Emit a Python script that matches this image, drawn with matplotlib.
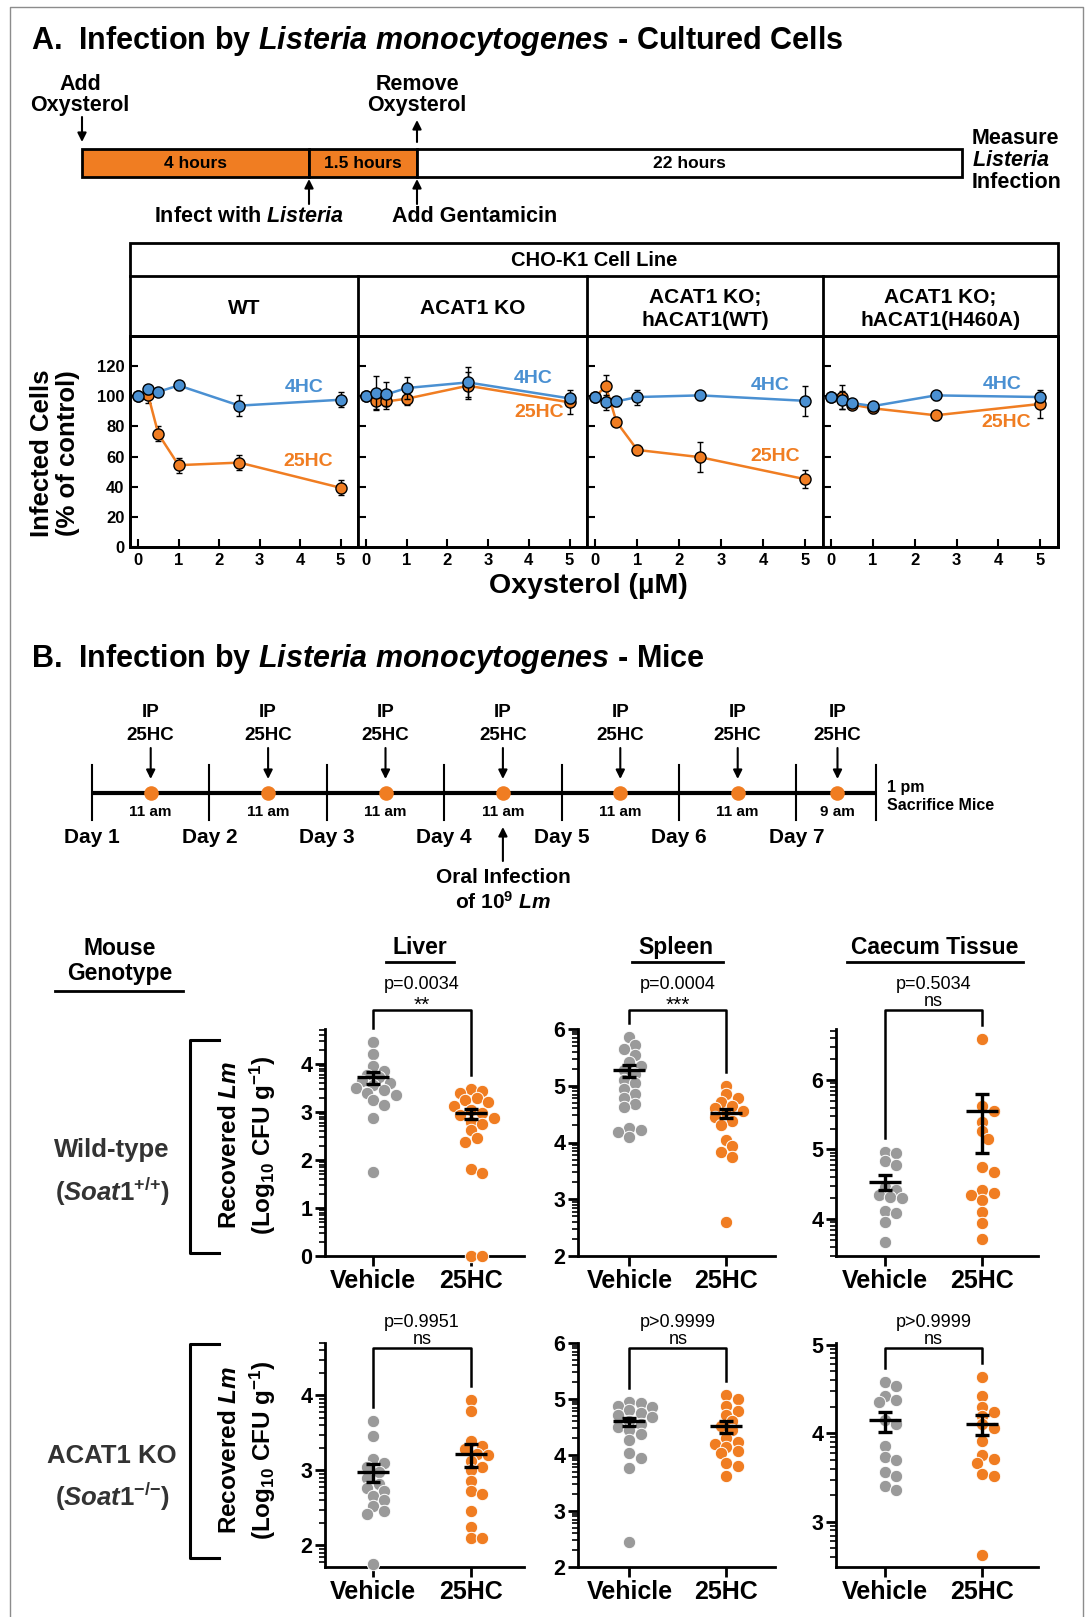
import numpy as np
import matplotlib
matplotlib.use("Agg")
import matplotlib.pyplot as plt
from matplotlib.patches import Rectangle
from matplotlib.ticker import FixedLocator

#################################################################
# data
#################################################################

# A: infection of CHO-K1 cells (% of control) vs oxysterol (uM)
conc = [0, 0.25, 0.5, 1, 2.5, 5]
cellLines = ["WT", "ACAT1 KO", "ACAT1 KO;\nhACAT1(WT)", "ACAT1 KO;\nhACAT1(H460A)"]

hc4Mean = [[100.4, 104.6, 103.0, 107.2, 93.8, 97.7],
           [100.4, 102.4, 101.3, 105.5, 109.2, 98.6],
           [99.7, 96.0, 96.6, 99.5, 100.6, 97.0],
           [99.7, 97.3, 95.5, 93.5, 100.6, 99.5]]
hc4Err = [[0, 3, 2.5, 3, 7, 5],
          [0, 11, 8, 7.5, 10, 3],
          [0, 5, 3, 5, 3, 10],
          [0, 6, 3, 3, 3, 3]]
hc25Mean = [[100.4, 100.6, 75.0, 54.3, 56.0, 39.3],
            [100.4, 96.6, 96.6, 98.4, 107.0, 96.0],
            [99.7, 106.8, 83.2, 64.4, 59.6, 45.0],
            [99.7, 99.7, 94.4, 92.0, 87.4, 94.9]]
hc25Err = [[0, 5, 5, 5, 5, 5],
           [0, 6, 5, 4, 9, 8],
           [0, 7, 2, 3, 10, 6],
           [0, 8, 3, 3, 3, 9]]

# A timeline
phaseLabels = ["4 hours", "1.5 hours", "22 hours"]

# B timeline (days from start of day 1)
dayLabels = ["Day 1", "Day 2", "Day 3", "Day 4", "Day 5", "Day 6", "Day 7"]
ipDays = [0.5, 1.5, 2.5, 3.5, 4.5, 5.5, 6.35]
ipTimes = ["11 am", "11 am", "11 am", "11 am", "11 am", "11 am", "9 am"]
infectionDay = 3.5
sacrificeDay = 6.68

# B: recovered Lm, log10 CFU/g
tissues = ["Liver", "Spleen", "Caecum Tissue"]
groups = ["Vehicle", "25HC"]

wtLiverVeh = [4.45, 4.21, 3.95, 3.85, 3.78, 3.72, 3.65, 3.6, 3.56, 3.5, 3.46, 3.4, 3.35, 3.25, 3.15, 2.88, 1.75]
wtLiver25 = [3.47, 3.44, 3.4, 3.3, 3.25, 3.2, 3.13, 3.05, 2.98, 2.94, 2.88, 2.8, 2.76, 2.62, 2.45, 2.38, 1.82, 1.73, 0, 0]
wtSpleenVeh = [5.86, 5.72, 5.65, 5.55, 5.42, 5.35, 5.28, 5.2, 5.1, 5.05, 4.95, 4.85, 4.78, 4.68, 4.62, 4.25, 4.22, 4.18, 4.1]
wtSpleen25 = [5.0, 4.85, 4.78, 4.72, 4.65, 4.6, 4.55, 4.5, 4.45, 4.38, 4.3, 4.04, 3.93, 3.84, 3.75, 2.6]
wtCaecumVeh = [4.97, 4.95, 4.84, 4.78, 4.46, 4.42, 4.35, 4.32, 4.3, 4.12, 4.09, 3.96, 3.67]
wtCaecum25 = [6.58, 5.62, 5.55, 5.4, 5.26, 5.15, 4.75, 4.67, 4.42, 4.38, 4.35, 4.27, 4.1, 3.94, 3.72]

koLiverVeh = [3.66, 3.46, 3.15, 3.1, 3.05, 2.98, 2.9, 2.82, 2.77, 2.72, 2.66, 2.6, 2.52, 2.46, 2.42, 1.75]
koLiver25 = [3.94, 3.79, 3.39, 3.33, 3.28, 3.22, 3.2, 3.12, 3.04, 3.0, 2.86, 2.72, 2.68, 2.46, 2.24, 2.1, 2.1]
koSpleenVeh = [4.95, 4.92, 4.88, 4.85, 4.8, 4.75, 4.72, 4.68, 4.6, 4.55, 4.5, 4.45, 4.38, 4.26, 4.03, 3.94, 3.76, 2.45]
koSpleen25 = [5.08, 5.0, 4.87, 4.78, 4.71, 4.6, 4.52, 4.44, 4.3, 4.23, 4.2, 4.14, 4.08, 4.03, 3.85, 3.8, 3.62]
koCaecumVeh = [4.58, 4.53, 4.42, 4.38, 4.35, 4.15, 4.1, 3.86, 3.73, 3.7, 3.56, 3.52, 3.41, 3.36]
koCaecum25 = [4.64, 4.42, 4.3, 4.24, 4.2, 4.1, 4.06, 3.91, 3.75, 3.71, 3.66, 3.54, 3.52, 2.62]

# mean with lower / upper SEM
wtMean = [[3.74, 2.97], [5.27, 4.52], [4.53, 5.55]]
wtErrLo = [[0.15, 0.12], [0.12, 0.09], [0.11, 0.60]]
wtErrHi = [[0.10, 0.09], [0.09, 0.07], [0.10, 0.24]]
koMean = [[2.98, 3.22], [4.60, 4.51], [4.15, 4.11]]
koErrLo = [[0.14, 0.18], [0.08, 0.12], [0.13, 0.13]]
koErrHi = [[0.11, 0.13], [0.06, 0.10], [0.09, 0.10]]

wtP = ["p=0.0034", "p=0.0004", "p=0.5034"]
wtStars = ["**", "***", "ns"]
koP = ["p=0.9951", "p>0.9999", "p>0.9999"]
koStars = ["ns", "ns", "ns"]

#################################################################
# style / layout
#################################################################
W, H = 1088, 1617
ORANGE = "#F07D22"
BLUE = "#4A90D2"
GRAY = "#9A9A9A"

plt.rcParams['font.family'] = ['Liberation Sans', 'DejaVu Sans']
plt.rcParams['font.weight'] = 'bold'
plt.rcParams['mathtext.fontset'] = 'custom'
plt.rcParams['mathtext.rm'] = 'Liberation Sans:bold'
plt.rcParams['mathtext.it'] = 'Liberation Sans:italic:bold'
plt.rcParams['mathtext.bf'] = 'Liberation Sans:bold'
plt.rcParams['mathtext.default'] = 'regular'

fig = plt.figure(figsize=(W / 100, H / 100), dpi=100)


#################################################################
# helper functions
#################################################################
def pxAxes(l, t, r, b, **kw):
	return fig.add_axes([l / W, 1 - b / H, (r - l) / W, (b - t) / H], **kw)


def swarmOffsets(vals, ppuX, ppuY, diam):
	#simple beeswarm: highest value first, nearest free slot sideways
	vals = np.asarray(vals, float)
	order = np.argsort(-vals, kind='stable')
	cands = [0.0]
	for k in range(1, 15):
		cands += [k * 0.45 * diam, -k * 0.45 * diam]
	placed = []
	offs = np.zeros(len(vals))
	for i in order:
		y = vals[i] * ppuY
		for x in cands:
			if all(np.hypot(x - px, y - py) >= 0.66 * diam for px, py in placed):
				break
		placed.append((x, y))
		offs[i] = x / ppuX
	return offs


def logMinor(lo, hi):
	out = []
	for n in range(int(np.floor(lo)) - 1, int(np.ceil(hi)) + 1):
		for k in range(2, 10):
			v = n + np.log10(k)
			if lo <= v <= hi:
				out.append(v)
	return out


#################################################################
# main
#################################################################
def main():
	ov = fig.add_axes([0, 0, 1, 1], zorder=10)
	ov.set_xlim(0, W)
	ov.set_ylim(H, 0)
	ov.axis('off')

	def T(x, y, s, size, ha='center', va='center', **kw):
		ov.text(x, y, s, fontsize=size, ha=ha, va=va, **kw)

	def arrow(ax, x, y0, y1):
		ax.annotate("", xy=(x, y1), xytext=(x, y0), annotation_clip=False,
			arrowprops=dict(arrowstyle='-|>', lw=1.5, color='k', mutation_scale=13, shrinkA=0, shrinkB=0))

	# outer grey frame
	ov.plot([10, 10, 1083, 1083], [H + 5, 7, 7, H + 5], color='#8c8c8c', lw=1, clip_on=False)

	#---------------- A: title + timeline ----------------
	T(31, 41, r"A.  Infection by $\mathit{Listeria}$ $\mathit{monocytogenes}$ - Cultured Cells", 22, ha='left')
	segW = [227, 108, 545]
	segC = [ORANGE, ORANGE, 'white']
	x = 82
	for lab, w, c in zip(phaseLabels, segW, segC):
		ov.add_patch(Rectangle((x, 149), w, 28, fc=c, ec='k', lw=2))
		T(x + w / 2, 163, lab, 12.5)
		x += w
	T(80, 85, "Add", 15.5)
	T(80, 106, "Oxysterol", 15.5)
	arrow(ov, 82, 117, 142)
	T(417, 85, "Remove", 15.5)
	T(417, 106, "Oxysterol", 15.5)
	arrow(ov, 417, 142, 120)
	arrow(ov, 309, 204, 179)
	arrow(ov, 417, 204, 179)
	T(249, 217, r"Infect with $\mathit{Listeria}$", 15.5)
	T(475, 217, "Add Gentamicin", 15.5)
	T(972, 138, "Measure", 15.5, ha='left')
	T(972, 160, r"$\mathit{Listeria}$", 15.5, ha='left')
	T(972, 182, "Infection", 15.5, ha='left')

	#---------------- A: dose response panels ----------------
	edges = [130, 358, 587, 823, 1058]
	labPos = [[(4.1, 106), (4.2, 57)], [(4.1, 112), (4.25, 89)],
		[(4.17, 107), (4.3, 60)], [(4.1, 107.5), (4.2, 82.5)]]
	ov.add_patch(Rectangle((130, 243), 928, 304, fill=False, ec='k', lw=2))
	ov.plot([130, 1058], [276, 276], color='k', lw=2)
	ov.plot([130, 1058], [336, 336], color='k', lw=2)
	T(594, 260, "CHO-K1 Cell Line", 14.5)
	for i in range(4):
		l, r = edges[i], edges[i + 1]
		if i > 0:
			ov.plot([l, l], [276, 336], color='k', lw=2)
		lines = cellLines[i].split("\n")
		if len(lines) == 1:
			T((l + r) / 2, 309, lines[0], 15)
		else:
			T((l + r) / 2, 297, lines[0], 15)
			T((l + r) / 2, 321, lines[1], 15)

		ax = pxAxes(l, 336, r, 547)
		ax.errorbar(conc, hc25Mean[i], yerr=hc25Err[i], color=ORANGE, lw=1.8, marker='o', ms=8,
			mfc=ORANGE, mec='k', mew=1, ecolor='k', elinewidth=1, capsize=2.5, capthick=1, zorder=3, clip_on=False)
		ax.errorbar(conc, hc4Mean[i], yerr=hc4Err[i], color=BLUE, lw=1.8, marker='o', ms=8,
			mfc=BLUE, mec='k', mew=1, ecolor='k', elinewidth=1, capsize=2.5, capthick=1, zorder=4, clip_on=False)
		ax.text(*labPos[i][0], "4HC", color=BLUE, fontsize=14, ha='center', va='center')
		ax.text(*labPos[i][1], "25HC", color=ORANGE, fontsize=14, ha='center', va='center')
		ax.set_xlim(-0.2, 5.43)
		ax.set_ylim(0, 140)
		ax.set_xticks(range(6))
		ax.set_yticks(range(0, 121, 20))
		ax.tick_params(direction='in', length=6, width=1.5, labelsize=12, pad=4)
		if i > 0:
			ax.tick_params(axis='y', labelleft=False)
		for s in ax.spines.values():
			s.set_linewidth(2)
	T(55, 453, "Infected Cells\n(% of control)", 18.5, rotation=90, linespacing=1.15)
	T(588, 586, "Oxysterol (\u00b5M)", 20.5)

	#---------------- B: title + timeline ----------------
	T(31, 659, r"B.  Infection by $\mathit{Listeria}$ $\mathit{monocytogenes}$ - Mice", 22, ha='left')
	x0, ppd = 92, 117.4
	tl = fig.add_axes([0, 0, 1, 1], zorder=9)
	tl.set_xlim(-x0 / ppd, (W - x0) / ppd)
	tl.set_ylim(H, 0)
	tl.axis('off')
	tl.plot([0, sacrificeDay], [793, 793], color='k', lw=3, solid_capstyle='butt')
	for d in list(range(7)) + [sacrificeDay]:
		tl.plot([d, d], [765, 820], color='k', lw=1.5)
	for d, lab in enumerate(dayLabels):
		tl.text(d, 837, lab, fontsize=15, ha='center', va='center')
	tl.plot(ipDays, [793] * len(ipDays), 'o', ms=10.5, color=ORANGE, mec='none', zorder=4)
	for d, t in zip(ipDays, ipTimes):
		tl.text(d, 712, "IP", fontsize=13.5, ha='center', va='center')
		tl.text(d, 735, "25HC", fontsize=13.5, ha='center', va='center')
		tl.text(d, 812, t, fontsize=11, ha='center', va='center')
		arrow(tl, d, 748, 779)
	arrow(tl, infectionDay, 861, 827)
	tl.text(infectionDay, 877, "Oral Infection", fontsize=15, ha='center', va='center')
	tl.text(infectionDay, 902, r"of $10^{9}$ $\mathit{Lm}$", fontsize=15, ha='center', va='center')
	T(887, 787, "1 pm", 11.5, ha='left')
	T(887, 805, "Sacrifice Mice", 11.5, ha='left')

	#---------------- B: dot plots ----------------
	T(120, 948, "Mouse", 16.5)
	T(120, 973, "Genotype", 16.5)
	ov.plot([55, 183], [991, 991], color='k', lw=2)
	headX = [420, 676, 935]
	headSpan = [(386, 454), (632, 723), (847, 1023)]
	for name, hx, (a, b) in zip(tissues, headX, headSpan):
		T(hx, 947, name, 16.5)
		ov.plot([a, b], [962, 962], color='k', lw=2)

	rowLab = [("Wild-type", r"($\mathit{Soat1}^{{+}/{+}}$)", 1150, 1192),
		("ACAT1 KO", r"($\mathit{Soat1}^{{-}/{-}}$)", 1456, 1497)]
	rowBox = [(1029, 1256, 1010), (1343, 1567, 1348)]
	rowBracket = [(1040, 1253), (1344, 1558)]
	rowYc = [1145, 1450]
	cols = [(325, 524, (-0.49, 1.54)), (578, 775, (-0.53, 1.5)), (836, 1038, (-0.5, 1.57))]
	ylims = [[(0, 4.73), (2, 6), (3.47, 6.73)], [(1.71, 4.70), (2, 6), (2.49, 5.02)]]
	rowData = [[(wtLiverVeh, wtLiver25), (wtSpleenVeh, wtSpleen25), (wtCaecumVeh, wtCaecum25)],
		[(koLiverVeh, koLiver25), (koSpleenVeh, koSpleen25), (koCaecumVeh, koCaecum25)]]
	rowMean = [wtMean, koMean]
	rowLo = [wtErrLo, koErrLo]
	rowHi = [wtErrHi, koErrHi]
	rowP = [wtP, koP]
	rowS = [wtStars, koStars]

	for r in range(2):
		top, bot, brk = rowBox[r]
		g1, g2, y1, y2 = rowLab[r]
		T(112, y1, g1, 18.5, color='#333333')
		T(112, y2, g2, 18.5, color='#333333')
		b0, b1 = rowBracket[r]
		ov.plot([219, 190, 190, 219], [b0, b0, b1, b1], color='k', lw=2.2)
		T(229, rowYc[r], r"Recovered $\mathit{Lm}$", 17.5, rotation=90)
		T(263, rowYc[r], r"(${Log}_{10}$ CFU ${g}^{-1}$)", 17.5, rotation=90)

		for c in range(3):
			l, rr, xl = cols[c]
			yl = ylims[r][c]
			ax = pxAxes(l, top, rr, bot)
			ppuX = (rr - l) / (xl[1] - xl[0])
			ppuY = (bot - top) / (yl[1] - yl[0])
			colors = [GRAY, ORANGE]
			for g in range(2):
				vals = rowData[r][c][g]
				off = swarmOffsets(vals, ppuX, ppuY, 12.5)
				ax.scatter(g + off, vals, s=80, c=colors[g], edgecolors='white', linewidths=0.7,
					zorder=3, clip_on=False)
				m = rowMean[r][c][g]
				ax.errorbar(g, m, yerr=[[rowLo[r][c][g]], [rowHi[r][c][g]]], fmt='_', color='k', ms=23,
					mew=2.4, elinewidth=2.4, capsize=5, capthick=2.4, zorder=5, clip_on=False)
			# significance bracket
			gap = 14 / ppuY
			brTop = yl[1] + (top - brk) / ppuY
			legs = [max(v) + gap for v in rowData[r][c]]
			ax.plot([0, 0, 1, 1], [legs[0], brTop, brTop, legs[1]], color='k', lw=1.8, clip_on=False)
			ax.annotate(rowP[r][c], xy=(0.5, brTop), xytext=(0, 21 * 0.72), textcoords='offset points',
				ha='center', va='baseline', fontsize=13, fontweight='normal', annotation_clip=False)
			star = rowS[r][c]
			if star == "ns":
				ax.annotate(star, xy=(0.5, brTop), xytext=(0, 4.5 * 0.72), textcoords='offset points',
					ha='center', va='baseline', fontsize=13, fontweight='normal', annotation_clip=False)
			else:
				ax.annotate(star, xy=(0.5, brTop), xytext=(0, -1 * 0.72), textcoords='offset points',
					ha='center', va='baseline', fontsize=15, fontweight='normal', annotation_clip=False)

			ax.set_xlim(*xl)
			ax.set_ylim(*yl)
			ax.set_xticks([0, 1], groups)
			ax.set_yticks([n for n in range(int(np.ceil(yl[0])), int(np.floor(yl[1])) + 1)])
			ax.yaxis.set_minor_locator(FixedLocator(logMinor(*yl)))
			ax.tick_params(axis='y', which='major', direction='out', length=7, width=2, labelsize=15.5, pad=2)
			ax.tick_params(axis='y', which='minor', direction='out', length=4, width=1.2)
			ax.tick_params(axis='x', direction='out', length=7, width=2, labelsize=18, pad=2)
			for s in ['top', 'right']:
				ax.spines[s].set_visible(False)
			for s in ['left', 'bottom']:
				ax.spines[s].set_linewidth(2)
			ax.patch.set_alpha(0)

	plt.savefig("out.png", dpi=100)


#################################################################
# call main
#################################################################
if __name__ == "__main__":
	main()
